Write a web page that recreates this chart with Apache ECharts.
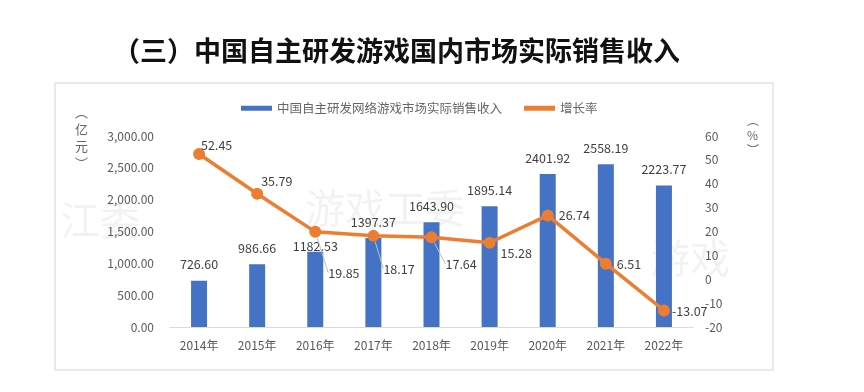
<!DOCTYPE html>
<html><head><meta charset="utf-8">
<script src="https://cdn.jsdelivr.net/npm/echarts@6/dist/echarts.min.js"></script>
<style>html,body{margin:0;padding:0;background:#fff}#c{width:864px;height:392px}</style>
</head><body><div id="c"></div>
<script>
const categories = ['2014年','2015年','2016年','2017年','2018年','2019年','2020年','2021年','2022年'];
const revenue = [726.60, 986.66, 1182.53, 1397.37, 1643.90, 1895.14, 2401.92, 2558.19, 2223.77];
const growth = [52.45, 35.79, 19.85, 18.17, 17.64, 15.28, 26.74, 6.51, -13.07];
// label nudges (dx, dy) for the growth-rate labels
const growthLabelDx = [-9, -7, 2, -1, 3, 0, 0, 0, -3];
const growthLabelDy = [-9, -13, 41, 33, 27, 10, 0, 1, 1];
const growthLeader = [false, false, true, true, true, false, false, false, false];
const FONT = '"Noto Sans CJK SC","Noto Sans",sans-serif';
const chart = echarts.init(document.getElementById('c'));
chart.setOption({
  animation:false,
  textStyle:{fontFamily:FONT},
  title:{text:'（三）中国自主研发游戏国内市场实际销售收入',left:108,top:32,
    textStyle:{fontSize:27,fontWeight:'bold',color:'#111',fontFamily:FONT}},
  graphic:[
    {type:'rect',shape:{x:55,y:83,width:718,height:287},style:{fill:'none',stroke:'#e3e3e3',lineWidth:1.5}},
    {type:'text',left:75,top:104,style:{text:'︵\n亿\n元\n︶',fill:'#666',font:'13px '+FONT,lineHeight:17}},
    {type:'text',left:747,top:113,style:{text:'︵\n%\n︶',fill:'#666',font:'12px '+FONT,lineHeight:15,align:'center'}},
    {type:'text',left:60,top:200,style:{text:'江委',fill:'rgba(0,0,0,0.05)',font:'40px '+FONT}},
    {type:'text',left:305,top:188,style:{text:'游戏工委',fill:'rgba(0,0,0,0.05)',font:'40px '+FONT}},
    {type:'text',left:650,top:238,style:{text:'游戏',fill:'rgba(0,0,0,0.05)',font:'40px '+FONT}}
  ],
  legend:{top:97,left:236,itemGap:22,textStyle:{color:'#666',fontSize:12.5},
    data:[{name:'中国自主研发网络游戏市场实际销售收入',icon:'rect',itemStyle:{color:'#4472C4'}},
          {name:'增长率',icon:'rect',itemStyle:{color:'#ED7D31'}}],
    itemWidth:31,itemHeight:5},
  grid:{left:170,right:171,top:136,bottom:65},
  xAxis:{type:'category',data:categories,
    axisLine:{lineStyle:{color:'#d9d9d9'}},axisTick:{lineStyle:{color:'#d9d9d9'}},
    axisLabel:{color:'#595959',fontSize:12,margin:12}},
  yAxis:[
    {type:'value',min:0,max:3000,interval:500,splitLine:{show:false},
     axisLabel:{color:'#595959',fontSize:12,margin:16,
       formatter:v=>v.toLocaleString('en-US',{minimumFractionDigits:2,maximumFractionDigits:2})}},
    {type:'value',min:-20,max:60,interval:10,splitLine:{show:false},
     axisLabel:{color:'#595959',fontSize:12,margin:12}}
  ],
  series:[
    {name:'中国自主研发网络游戏市场实际销售收入',type:'bar',data:revenue.map((v,i)=>i===2?{value:v,label:{distance:-1}}:v),barWidth:16,
     itemStyle:{color:'#4472C4'},
     label:{show:true,position:'top',distance:10,color:'#404040',fontSize:12.5,
       formatter:p=>p.value.toFixed(2)}},
    {name:'增长率',type:'line',yAxisIndex:1,
     data:growth.map((v,i)=>({value:v,labelLine:{show:growthLeader[i]}})),
     symbol:'circle',symbolSize:12,
     lineStyle:{color:'#ED7D31',width:3.5},itemStyle:{color:'#ED7D31'},
     label:{show:true,position:'right',distance:5,color:'#404040',fontSize:12.5,formatter:p=>p.value.toFixed(2)},
     labelLine:{show:false,lineStyle:{color:'#bfbfbf',width:1}},
     labelLayout:p=>({dx:growthLabelDx[p.dataIndex],dy:growthLabelDy[p.dataIndex]})}
  ]
});
</script></body></html>
